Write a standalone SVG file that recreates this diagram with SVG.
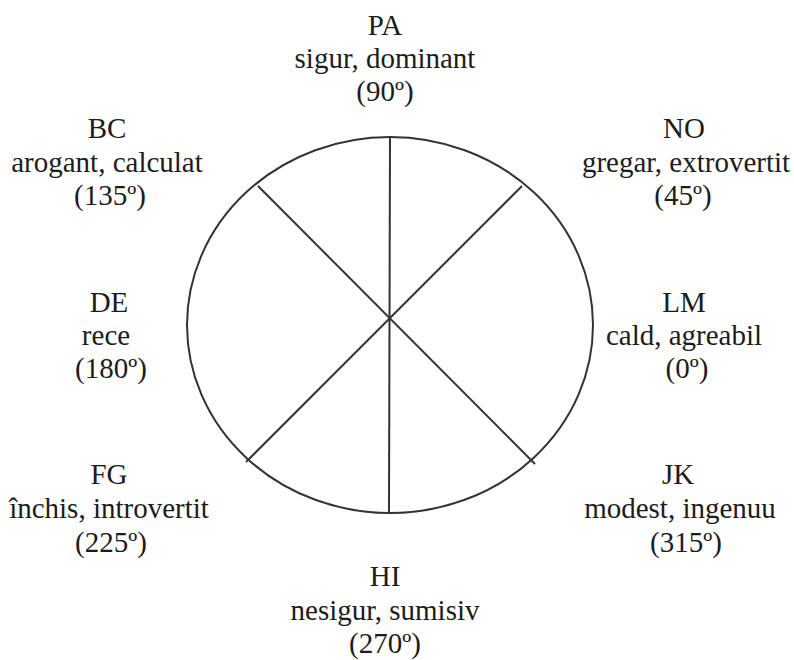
<svg xmlns="http://www.w3.org/2000/svg" width="794" height="660" viewBox="0 0 794 660">
<style>
text{font-size:29px;fill:#1c1c1c;text-anchor:middle}
.ln{stroke:#333333;stroke-width:2;fill:none}
</style>
<rect width="794" height="660" fill="#ffffff"/>
<g id="wheel">
<ellipse class="ln" cx="390" cy="325" rx="203" ry="188"/>
</g>
<g id="connectors">
<line class="ln" x1="390" y1="137" x2="389" y2="513"/>
<line class="ln" x1="258" y1="186" x2="535" y2="464"/>
<line class="ln" x1="522" y1="186" x2="246" y2="462"/>
</g>
<g font-family="Liberation Serif, Tinos, Times New Roman, Noto Serif, DejaVu Serif, serif">
<g id="PA"><text x="385" y="35">PA</text><text x="385" y="68">sigur, dominant</text><text x="385" y="101">(90º)</text></g>
<g id="BC"><text x="107" y="138">BC</text><text x="107" y="172">arogant, calculat</text><text x="110" y="205">(135º)</text></g>
<g id="NO"><text x="684" y="138">NO</text><text x="686" y="172">gregar, extrovertit</text><text x="683" y="205">(45º)</text></g>
<g id="DE"><text x="109" y="312">DE</text><text x="106" y="345">rece</text><text x="111" y="378">(180º)</text></g>
<g id="LM"><text x="684" y="312">LM</text><text x="684" y="345">cald, agreabil</text><text x="687" y="378">(0º)</text></g>
<g id="FG"><text x="109" y="484">FG</text><text x="109" y="518">închis, introvertit</text><text x="111" y="552">(225º)</text></g>
<g id="JK"><text x="678" y="484">JK</text><text x="680" y="518">modest, ingenuu</text><text x="686" y="552">(315º)</text></g>
<g id="HI"><text x="385" y="586">HI</text><text x="385" y="620">nesigur, sumisiv</text><text x="385" y="653">(270º)</text></g>
</g>
</svg>
